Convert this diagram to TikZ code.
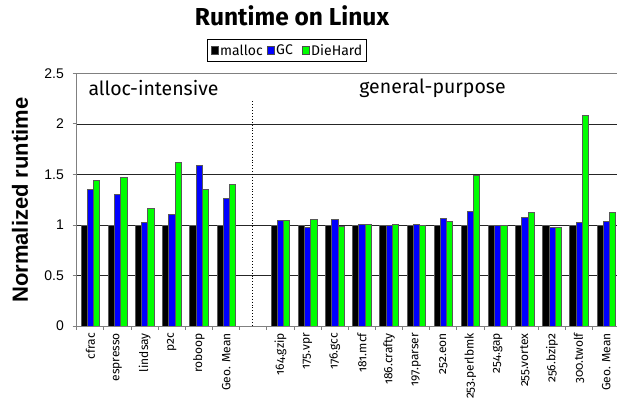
\documentclass[tikz,border=0pt]{standalone}
\usepackage{fontspec}
\setmainfont{Fira Sans}
\newfontfamily\labfont{Fira Sans}[Numbers=OldStyle]
\newfontfamily\arifont{Liberation Sans}
\definecolor{gcblue}{RGB}{0,0,255}
\definecolor{dhgreen}{RGB}{0,255,0}
\definecolor{axgray}{RGB}{128,128,128}
\tikzset{
  barbox/.style={draw=black!65, line width=0.6pt},
  gridline/.style={draw=black!85, line width=0.8pt},
  axisline/.style={draw=axgray, line width=1pt},
  ticklab/.style={font=\arifont\fontsize{14}{14}\selectfont, anchor=east, inner sep=0pt},
  catlab/.style={font=\labfont\fontsize{12}{12}\selectfont, rotate=90, anchor=east, inner sep=0pt},
  grplab/.style={font=\fontsize{19.5}{20}\selectfont, inner sep=0pt},
  legsq/.style={draw=black!70, line width=0.5pt, minimum size=7.5pt, inner sep=0pt},
  legtxt/.style={font=\fontsize{14}{14}\selectfont, inner sep=0pt, anchor=west}
}
\begin{document}
\begin{tikzpicture}[x=1pt,y=-1pt]
\useasboundingbox (0,0) rectangle (617,398);
\clip (0,0) rectangle (617,398);
\fill[white] (0,0) rectangle (617,398);
% title
\node[font=\bfseries\fontsize{24.5}{26}\selectfont, inner sep=0pt] (title) at (292,16) {Runtime on Linux};
% legend
\node[draw=black, line width=0.7pt, minimum width=159pt, minimum height=22pt, inner sep=0pt] (legend) at (286.5,50) {};
\node[legsq, fill=black] (lsq1) at (214.5,50.5) {};
\node[legtxt] (lt1) at (220,50) {malloc};
\node[legsq, fill=gcblue] (lsq2) at (270.5,50.5) {};
\node[legtxt] (lt2) at (276,50) {GC};
\node[legsq, fill=dhgreen] (lsq3) at (305.5,50.5) {};
\node[legtxt] (lt3) at (311,50) {DieHard};
% gridlines
\foreach \v in {0.5,1,1.5,2} {
  \draw[gridline] (76.8,{326-101*\v}) -- (620,{326-101*\v});
}
\draw[axisline] (76.8,{326-101*2.5}) -- (620,{326-101*2.5});
% y tick labels and ticks
\foreach \v/\t in {0/0,0.5/0.5,1/1,1.5/1.5,2/2,2.5/2.5} {
  \node[ticklab] (yl\t) at (64,{326-101*\v}) {\t};
  \draw[axisline] (72.5,{326-101*\v}) -- (76.8,{326-101*\v});
}
\node[font=\arifont\bfseries\fontsize{22}{22}\selectfont, rotate=90, inner sep=0pt] (ylab) at (20,200) {Normalized runtime};
% group labels
\node[grplab] (g1) at (153.5,88) {alloc-intensive};
\node[grplab] (g2) at (432.5,88) {general-purpose};
% divider
\draw[black, dotted, line width=0.9pt] (252.7,101.5) -- (252.7,326);
% bars
\foreach \i/\b/\g/\name in {
 0/1.352/1.444/cfrac,
 1/1.30/1.47/espresso,
 2/1.03/1.165/lindsay,
 3/1.11/1.625/p2c,
 4/1.59/1.35/roboop,
 5/1.26/1.40/Geo. Mean,
 7/1.05/1.05/164.gzip,
 8/0.977/1.056/175.vpr,
 9/1.06/0.987/176.gcc,
 10/1.003/1.007/181.mcf,
 11/0.993/1.007/186.crafty,
 12/1.007/0.997/197.parser,
 13/1.066/1.036/252.eon,
 14/1.138/1.49/253.perlbmk,
 15/1.0/1.0/254.gap,
 16/1.079/1.128/255.vortex,
 17/0.977/0.977/256.bzip2,
 18/1.03/2.09/300.twolf,
 19/1.033/1.125/Geo. Mean} {
  \pgfmathsetmacro{\cx}{76.8+27.15*(\i+0.5)}
  \filldraw[barbox, fill=black] ({\cx-9.3},326) rectangle ({\cx-3.1},{326-101});
  \filldraw[barbox, fill=gcblue] ({\cx-3.1},326) rectangle ({\cx+3.1},{326-101*\b});
  \filldraw[barbox, fill=dhgreen] ({\cx+3.1},326) rectangle ({\cx+9.3},{326-101*\g});
  \node[catlab] (c\i) at (\cx,333) {\name};
}
% axes
\draw[axisline] (76.8,73.5) -- (76.8,330);
\draw[axisline] (76.8,326) -- (620,326);
\foreach \k in {1,...,19} {
  \draw[axisline] ({76.8+27.15*\k},326) -- ({76.8+27.15*\k},330);
}
\end{tikzpicture}
\end{document}
